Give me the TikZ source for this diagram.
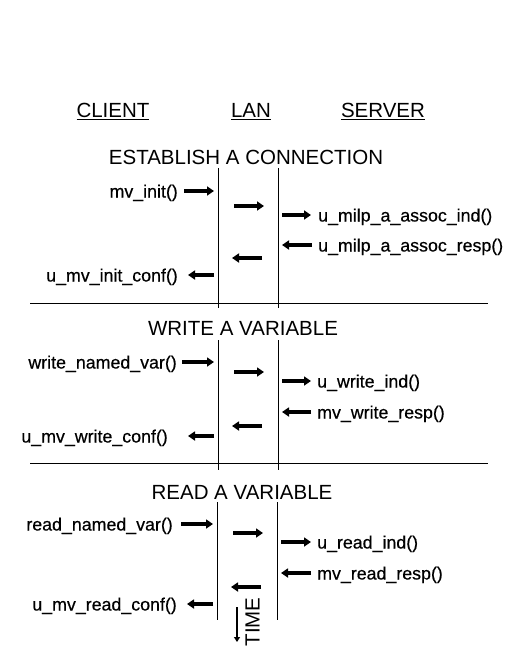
\documentclass[tikz,border=0pt]{standalone}
\usepackage{fontspec}
\setmainfont{Liberation Sans}
\newfontfamily\lblfont[FakeBold=0.5]{Liberation Sans}
\usetikzlibrary{arrows.meta}

\begin{document}
\begin{tikzpicture}[x=1pt,y=-1pt,
    msg/.style={line width=3.4pt,-{Triangle[length=7pt,width=9pt]}},
    lbl/.style={inner sep=0pt,text height=13pt,text depth=0pt,font=\lblfont\fontsize{17.8}{20}\selectfont},
    hdr/.style={inner sep=0pt,text height=15pt,text depth=0pt,font=\fontsize{20.5}{22}\selectfont},
    lane/.style={line width=0.9pt}]

      \useasboundingbox (0,0) rectangle (508,648);

      % Define the column headings
      \node[hdr] (client) at (113,110) {\underline{CLIENT}};
      \node[hdr] (lan) at (251,110) {\underline{LAN}};
      \node[hdr] (server) at (383,110) {\underline{SERVER}};

      % Section titles
      \node[hdr] (est) at (246,157) {ESTABLISH A CONNECTION};
      \node[hdr] (write) at (243,328) {WRITE A VARIABLE};
      \node[hdr] (read) at (242,492) {READ A VARIABLE};

      % Draw the lanes and separators
      \draw[lane] (218,168) -- (218,308);
      \draw[lane] (278,168) -- (278,308);
      \draw[lane] (218,340) -- (218,470);
      \draw[lane] (278,340) -- (278,470);
      \draw[lane] (217,502) -- (217,620);
      \draw[lane] (277,502) -- (277,620);
      \draw[line width=0.8pt] (30,303) -- (488,303);
      \draw[line width=0.8pt] (30,463) -- (488,463);

      % Establish a connection
      \node[lbl,anchor=east] (init) at (178,191) {mv\_init()};
      \node[lbl,anchor=west] (assocind) at (318,215) {u\_milp\_a\_assoc\_ind()};
      \node[lbl,anchor=west] (assocresp) at (318,245) {u\_milp\_a\_assoc\_resp()};
      \node[lbl,anchor=east] (initconf) at (178,275) {u\_mv\_init\_conf()};
      \coordinate (c1) at (214,191);
      \coordinate (l1a) at (234,206);
      \coordinate (l1b) at (264,206);
      \coordinate (s1a) at (282,215);
      \coordinate (s1b) at (282,245);
      \coordinate (l2a) at (262,258);
      \coordinate (l2b) at (232,258);
      \coordinate (c2) at (214,275);
      \draw[msg] ([xshift=6pt]init.east) -- (c1);
      \draw[msg] (l1a) -- (l1b);
      \draw[msg] (s1a) -- ([xshift=-7pt]assocind.west);
      \draw[msg] ([xshift=-6pt]assocresp.west) -- (s1b);
      \draw[msg] (l2a) -- (l2b);
      \draw[msg] (c2) -- ([xshift=10pt]initconf.east);

      % Write a variable
      \node[lbl,anchor=east] (wnamed) at (177,362) {write\_named\_var()};
      \node[lbl,anchor=west] (wind) at (317,381) {u\_write\_ind()};
      \node[lbl,anchor=west] (wresp) at (317,412) {mv\_write\_resp()};
      \node[lbl,anchor=east] (wconf) at (168,436) {u\_mv\_write\_conf()};
      \coordinate (c3) at (214,362);
      \coordinate (l3a) at (234,372);
      \coordinate (l3b) at (264,372);
      \coordinate (s3a) at (282,381);
      \coordinate (s3b) at (282,412);
      \coordinate (l4a) at (262,426);
      \coordinate (l4b) at (232,426);
      \coordinate (c4) at (214,436);
      \draw[msg] ([xshift=5pt]wnamed.east) -- (c3);
      \draw[msg] (l3a) -- (l3b);
      \draw[msg] (s3a) -- ([xshift=-6pt]wind.west);
      \draw[msg] ([xshift=-6pt]wresp.west) -- (s3b);
      \draw[msg] (l4a) -- (l4b);
      \draw[msg] (c4) -- ([xshift=20pt]wconf.east);

      % Read a variable
      \node[lbl,anchor=east] (rnamed) at (173,524) {read\_named\_var()};
      \node[lbl,anchor=west] (rind) at (317,542) {u\_read\_ind()};
      \node[lbl,anchor=west] (rresp) at (317,573) {mv\_read\_resp()};
      \node[lbl,anchor=east] (rconf) at (177,604) {u\_mv\_read\_conf()};
      \coordinate (c5) at (213,524);
      \coordinate (l5a) at (233,533);
      \coordinate (l5b) at (263,533);
      \coordinate (s5a) at (281,542);
      \coordinate (s5b) at (281,573);
      \coordinate (l6a) at (261,587);
      \coordinate (l6b) at (231,587);
      \coordinate (c6) at (213,604);
      \draw[msg] ([xshift=8pt]rnamed.east) -- (c5);
      \draw[msg] (l5a) -- (l5b);
      \draw[msg] (s5a) -- ([xshift=-6pt]rind.west);
      \draw[msg] ([xshift=-6pt]rresp.west) -- (s5b);
      \draw[msg] (l6a) -- (l6b);
      \draw[msg] (c6) -- ([xshift=10pt]rconf.east);

      % Time axis
      \node[hdr,rotate=90] (time) at (252,622) {TIME};
      \coordinate (t1) at (237,607);
      \coordinate (t2) at (237,642);
      \draw[line width=2.2pt,-{Triangle[length=5pt,width=6pt]}] (t1) -- (t2);
  \end{tikzpicture}
\end{document}
